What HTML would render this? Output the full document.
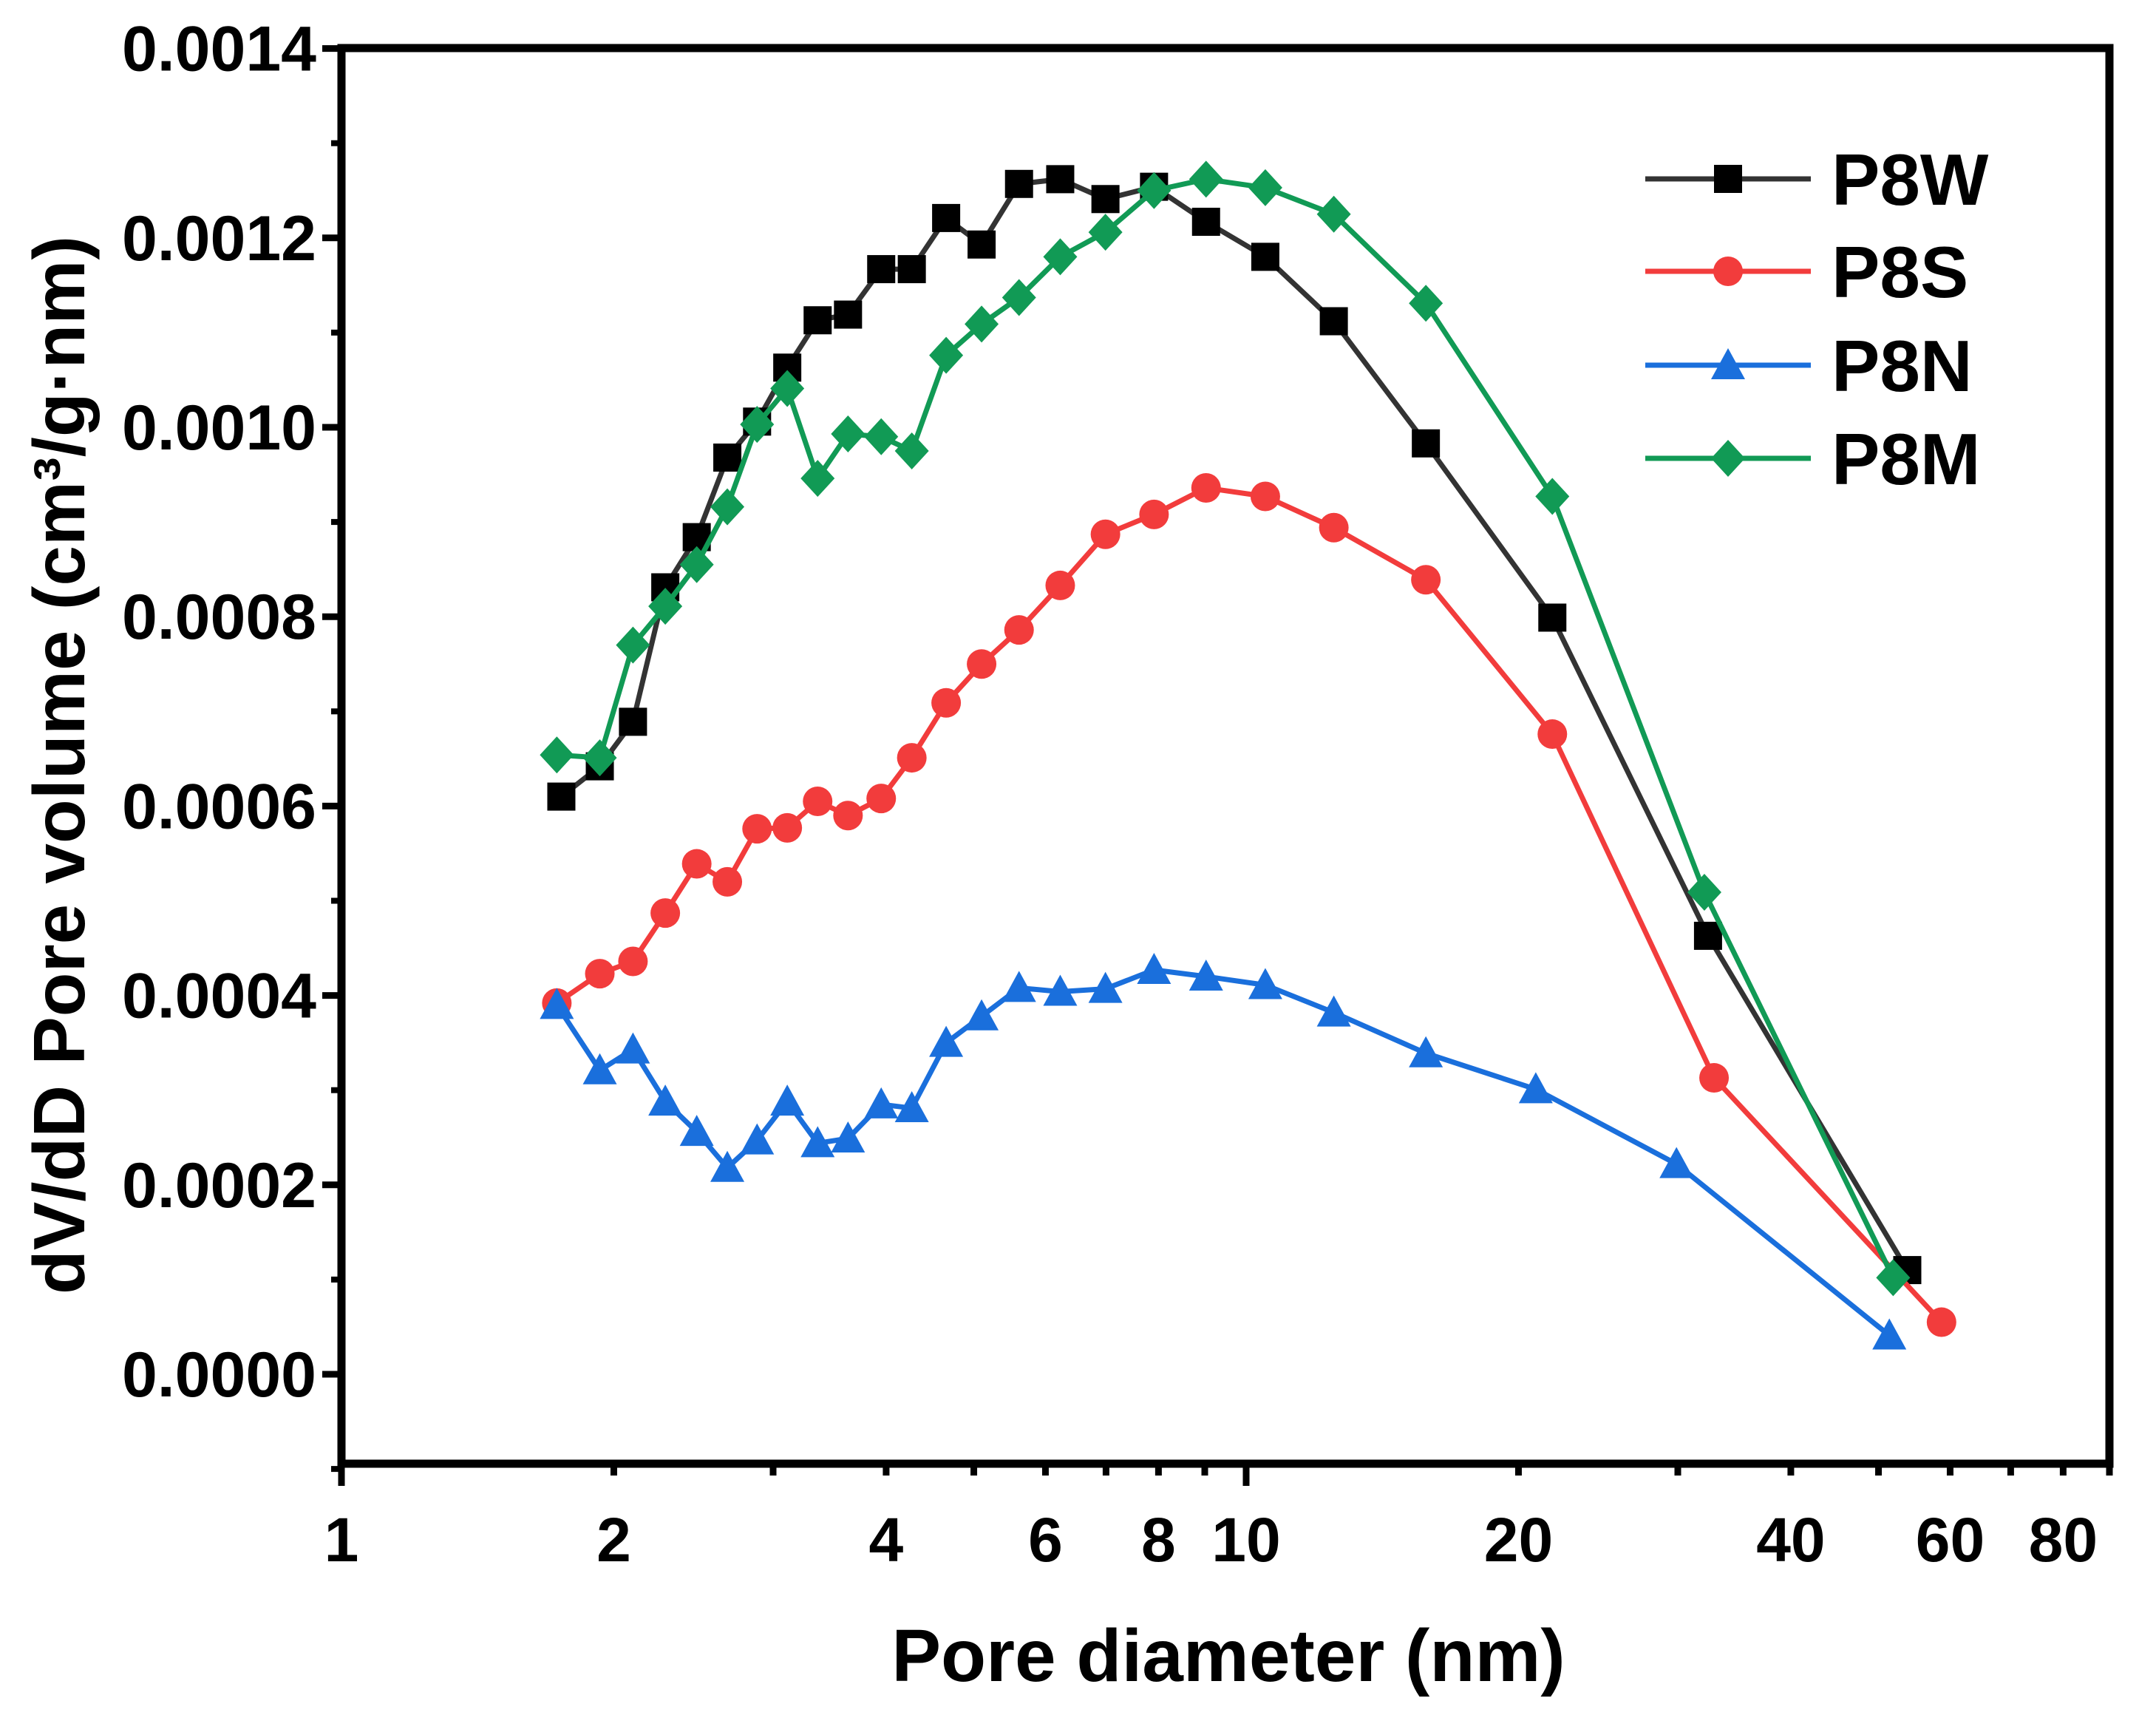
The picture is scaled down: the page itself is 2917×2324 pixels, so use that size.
<!DOCTYPE html>
<html><head><meta charset="utf-8"><style>
html,body{margin:0;padding:0;background:#fff}
svg{display:block;font-family:"Liberation Sans",Arial,sans-serif;font-weight:bold}
</style></head><body>
<svg id="chart" width="2917" height="2324" viewBox="0 0 2917 2324" xmlns="http://www.w3.org/2000/svg">
<g id="axes"></g><g id="series"></g><g id="legend"></g>
<text x="1662" y="2274" font-size="100" text-anchor="middle">Pore diameter (nm)</text>
<text transform="translate(114,1035) rotate(-90)" font-size="98" text-anchor="middle">dV/dD Pore volume (cm³/g·nm)</text>
</svg>
<script>
const seriesNames = ["P8W","P8S","P8N","P8M"];
const seriesColors = ["#333333","#f23c3c","#1a6fdc","#119a55"];
const markerColors = ["#000000","#f23c3c","#1a6fdc","#119a55"];
const markerShapes = ["square","circle","triangle","diamond"];
const xW = [1.75,1.93,2.10,2.28,2.47,2.67,2.88,3.11,3.36,3.63,3.95,4.27,4.66,5.10,5.61,6.23,6.99,7.91,9.03,10.5,12.5,15.8,21.8,32.4,53.8];
const yW = [0.000610,0.000642,0.000689,0.000831,0.000884,0.000968,0.001006,0.001063,0.001113,0.001119,0.001167,0.001167,0.001221,0.001193,0.001257,0.001262,0.001241,0.001254,0.001217,0.001180,0.001112,0.000983,0.000799,0.000463,0.000110];
const xS = [1.73,1.93,2.10,2.28,2.47,2.67,2.88,3.11,3.36,3.63,3.95,4.27,4.66,5.10,5.61,6.23,6.99,7.91,9.03,10.5,12.5,15.8,21.8,32.9,58.7];
const yS = [0.000392,0.000423,0.000436,0.000487,0.000539,0.000520,0.000576,0.000577,0.000605,0.000590,0.000608,0.000651,0.000709,0.000750,0.000786,0.000833,0.000887,0.000908,0.000936,0.000927,0.000894,0.000839,0.000676,0.000313,0.000055];
const xN = [1.73,1.93,2.10,2.28,2.47,2.67,2.88,3.11,3.36,3.63,3.95,4.27,4.66,5.10,5.61,6.23,6.99,7.91,9.03,10.5,12.5,15.8,20.9,29.9,51.4];
const yN = [0.000390,0.000321,0.000343,0.000288,0.000256,0.000218,0.000247,0.000288,0.000244,0.000249,0.000285,0.000281,0.000350,0.000378,0.000408,0.000404,0.000407,0.000427,0.000420,0.000411,0.000382,0.000339,0.000301,0.000222,0.000041];
const xM = [1.73,1.93,2.10,2.28,2.47,2.67,2.88,3.11,3.36,3.63,3.95,4.27,4.66,5.10,5.61,6.23,6.99,7.91,9.03,10.5,12.5,15.8,21.8,32.1,51.9];
const yM = [0.000654,0.000651,0.000770,0.000811,0.000855,0.000916,0.001003,0.001041,0.000946,0.000993,0.000990,0.000975,0.001076,0.001109,0.001137,0.001180,0.001206,0.001250,0.001262,0.001253,0.001225,0.001131,0.000927,0.000509,0.000102];
const yTickValues = [0,0.0002,0.0004,0.0006,0.0008,0.0010,0.0012,0.0014];
const yTickLabels = ["0.0000","0.0002","0.0004","0.0006","0.0008","0.0010","0.0012","0.0014"];
const xTickValues = [1,2,3,4,5,6,7,8,9,10,20,30,40,50,60,70,80,90];
const xLabelValues = [1,2,4,6,8,10,20,40,60,80];

const NS="http://www.w3.org/2000/svg";
const L=462,R=2854,T=65,B=1980,Y0=1859,YPER=1281/0.001,DEC=1224;
function sx(v){return L+Math.log10(v)*DEC;}
function sy(v){return Y0-v*YPER;}
function mk(tag,attrs,parent){const e=document.createElementNS(NS,tag);for(const k in attrs)e.setAttribute(k,attrs[k]);parent.appendChild(e);return e;}
const axes=document.getElementById('axes'),ser=document.getElementById('series'),leg=document.getElementById('legend');

const frame=mk('rect',{x:L,y:T,width:R-L,height:B-T,fill:'none',stroke:'#000','stroke-width':11},axes);


yTickValues.forEach((v,i)=>{
  const t=mk('line',{x1:L-26,x2:L,y1:sy(v),y2:sy(v),stroke:'#000','stroke-width':9},axes);
  
  
  const tx=mk('text',{x:428,y:sy(v)+30,'font-size':86,'text-anchor':'end'},axes);
  tx.textContent=yTickLabels[i];
  
  
  if(i<yTickValues.length-1){
    const m=mk('line',{x1:L-14,x2:L,y1:sy(v+0.0001),y2:sy(v+0.0001),stroke:'#000','stroke-width':8},axes);
    
    
  }
});
const m0=mk('line',{x1:L-14,x2:L,y1:sy(-0.0001),y2:sy(-0.0001),stroke:'#000','stroke-width':8},axes);


xTickValues.forEach(v=>{
  const len=(v===1||v===10)?30:16;
  const t=mk('line',{x1:sx(v),x2:sx(v),y1:B,y2:B+len,stroke:'#000','stroke-width':9},axes);
  
  
});
xLabelValues.forEach(v=>{
  const tx=mk('text',{x:sx(v),y:2112,'font-size':84,'text-anchor':'middle'},axes);
  tx.textContent=String(v);
  
  
});

function marker(shape,x,y,color,parent){
  const s=19;let e;
  if(shape==='square')e=mk('rect',{x:x-s,y:y-s,width:2*s,height:2*s,fill:color},parent);
  else if(shape==='circle')e=mk('circle',{cx:x,cy:y,r:s+1,fill:color},parent);
  else if(shape==='triangle')e=mk('polygon',{points:`${x},${y-s-4} ${x-s-4},${y+s} ${x+s+4},${y+s}`,fill:color},parent);
  else e=mk('polygon',{points:`${x},${y-s-6} ${x+s+4},${y} ${x},${y+s+6} ${x-s-4},${y}`,fill:color},parent);
  return e;
}
const XS=[xW,xS,xN,xM],YS=[yW,yS,yN,yM];
XS.forEach((xs,k)=>{
  const g=mk('g',{},ser);
  
  
  const pts=xs.map((x,i)=>sx(x)+','+sy(YS[k][i])).join(' ');
  const pl=mk('polyline',{points:pts,fill:'none',stroke:seriesColors[k],'stroke-width':7,'stroke-linejoin':'round'},g);
  
  
  xs.forEach((x,i)=>{
    const m=marker(markerShapes[k],sx(x),sy(YS[k][i]),markerColors[k],g);
    
    
  });
});
const legY=[242,367,494,620];
seriesNames.forEach((n,k)=>{
  const g=mk('g',{},leg);
  
  
  mk('line',{x1:2226,x2:2450,y1:legY[k],y2:legY[k],stroke:seriesColors[k],'stroke-width':7},g);
  marker(markerShapes[k],2338,legY[k],markerColors[k],g);
  const t=mk('text',{x:2478,y:legY[k]+35,'font-size':98},g);
  t.textContent=n;
});
</script>
</body></html>
